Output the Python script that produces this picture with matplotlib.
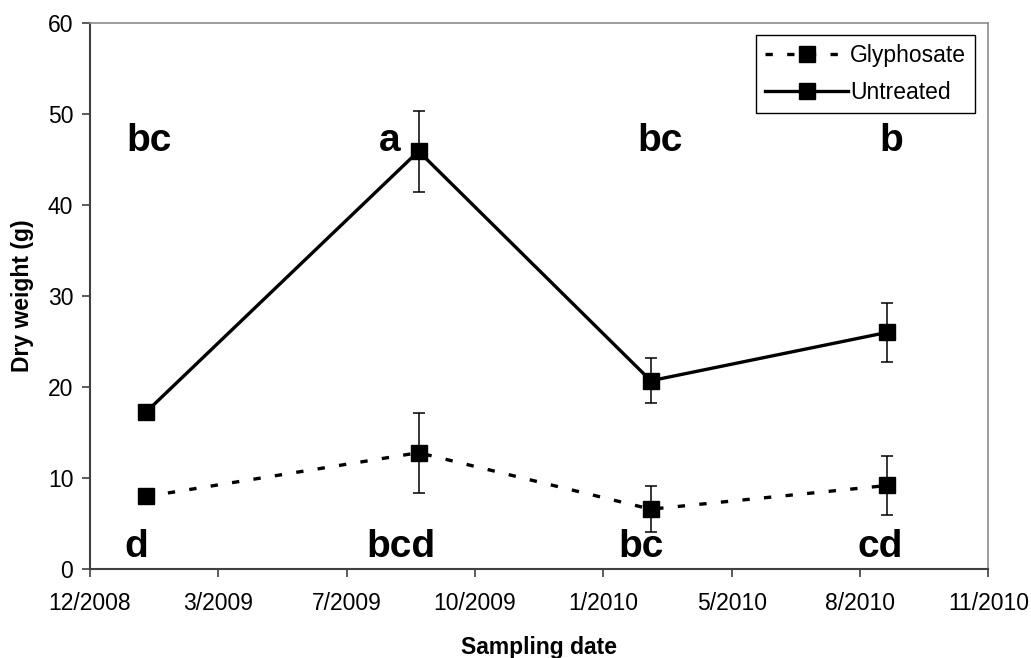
import matplotlib
matplotlib.use("Agg")
import matplotlib.pyplot as plt
import matplotlib.dates as mdates
from matplotlib.ticker import FuncFormatter, MultipleLocator
from datetime import datetime

plt.rcParams['font.family'] = ['Liberation Sans', 'DejaVu Sans']

# sampling dates and mean dry weights (g)
dates = [datetime(2009, 2, 1), datetime(2009, 9, 1),
         datetime(2010, 3, 1), datetime(2010, 9, 1)]
untreated = [17.3, 45.9, 20.7, 26.0]
untreated_err = [0.5, 4.45, 2.5, 3.2]
glyphosate = [8.0, 12.8, 6.6, 9.2]
glyphosate_err = [0.6, 4.4, 2.55, 3.25]

# mean separation letters
letters_untreated = ['bc', 'a', 'bc', 'b']
letters_glyphosate = ['d', 'bcd', 'bc', 'cd']

fig = plt.figure(figsize=(10.31, 6.58), dpi=100)
ax = fig.add_axes([0.0873, 0.1348, 0.8713, 0.8307])

# error bars first, lines + markers on top
ax.errorbar(dates, glyphosate, yerr=glyphosate_err, fmt='none', ecolor='black',
            elinewidth=1.1, capsize=4.5, capthick=1.1)
ax.errorbar(dates, untreated, yerr=untreated_err, fmt='none', ecolor='black',
            elinewidth=1.1, capsize=4.5, capthick=1.1)
ax.plot(dates, glyphosate, color='black', linestyle=(0, (2.2, 4.3)),
        linewidth=2.4, dash_capstyle='butt', marker='s', markersize=11,
        label='Glyphosate')
ax.plot(dates, untreated, color='black', linestyle='-', linewidth=2.4,
        marker='s', markersize=11, label='Untreated')

# letters: offsets in points from each sampling date
up_dx = [2, -21, 7, 3]
low_dx = [-7, -13, -7, -5]
for d, lab, dx in zip(dates, letters_untreated, up_dx):
    ax.annotate(lab, xy=(d, 45.9), xytext=(dx, 0), textcoords='offset points',
                ha='center', va='baseline', fontsize=28, fontweight='bold')
for d, lab, dx in zip(dates, letters_glyphosate, low_dx):
    ax.annotate(lab, xy=(d, 1.4), xytext=(dx, 0), textcoords='offset points',
                ha='center', va='baseline', fontsize=28, fontweight='bold')

# x axis: Excel-style date axis, 100 day major unit
start = datetime(2008, 12, 19)
xmin = mdates.date2num(start)
ax.set_xlim(xmin, xmin + 700)
ax.set_xticks([xmin + 100 * k for k in range(8)])
ax.xaxis.set_major_formatter(FuncFormatter(
    lambda v, p: f"{mdates.num2date(v).month}/{mdates.num2date(v).year}"))

ax.set_ylim(0, 60)
ax.yaxis.set_major_locator(MultipleLocator(10))

for s in ['left', 'bottom']:
    ax.spines[s].set_color('#404040')
    ax.spines[s].set_linewidth(1.5)
for s in ['top', 'right']:
    ax.spines[s].set_color('#8c8c8c')
    ax.spines[s].set_linewidth(1.2)

ax.tick_params(axis='both', direction='out', length=6, width=1.2,
               color='#404040', labelsize=16.5, labelcolor='black')
ax.tick_params(axis='x', pad=10)
ax.tick_params(axis='y', pad=6)

ax.set_xlabel('Sampling date', fontsize=16.5, fontweight='bold')
ax.xaxis.set_label_coords(0.5, -0.122)
ax.set_ylabel('Dry weight (g)', fontsize=16.5, fontweight='bold', labelpad=10)

leg = ax.legend(loc='upper right', bbox_to_anchor=(0.9855, 0.9775),
                borderaxespad=0, fontsize=16.5, handlelength=3.6,
                handletextpad=0.1, labelspacing=0.6, fancybox=False,
                framealpha=1, edgecolor='black')
leg.get_frame().set_linewidth(1.0)

fig.savefig('out.png', dpi=100)
